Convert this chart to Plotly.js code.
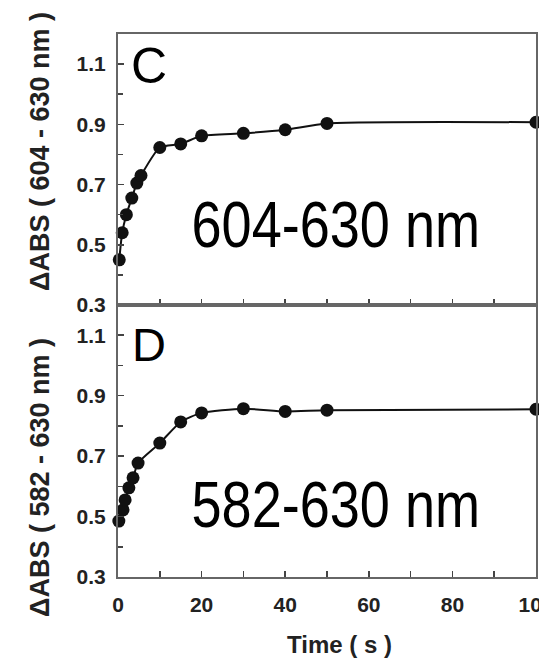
<!DOCTYPE html>
<html>
<head>
<meta charset="utf-8">
<script src="https://cdn.plot.ly/plotly-3.0.1.min.js"></script>
<style>html,body{margin:0;padding:0;background:#fff;}#chart{width:539px;height:660px;}</style>
</head>
<body>
<div id="chart"></div>
<script>
// Panel C: 604-630 nm
const timeC = [0.3, 1, 2, 3.3, 4.5, 5.5, 10, 15, 20, 30, 40, 50, 100];
const absC  = [0.45, 0.54, 0.60, 0.655, 0.705, 0.73, 0.823, 0.835, 0.862, 0.87, 0.882, 0.903, 0.907];
// Panel D: 582-630 nm
const timeD = [0.2, 1.2, 1.7, 2.6, 3.6, 4.8, 10, 15, 20, 30, 40, 50, 100];
const absD  = [0.485, 0.522, 0.555, 0.595, 0.628, 0.677, 0.743, 0.813, 0.843, 0.857, 0.848, 0.852, 0.855];

const xTicks = [0, 20, 40, 60, 80, 100];
const yTicks = [0.3, 0.5, 0.7, 0.9, 1.1];
const panelLetters = ['C', 'D'];
const panelLabels = ['604-630 nm', '582-630 nm'];
const yTitles = ['\u0394ABS ( 604 - 630 nm )', '\u0394ABS ( 582 - 630 nm )'];
const xTitle = 'Time ( s )';

const tickFont = {family: 'Liberation Sans, Arial, sans-serif', size: 21, color: '#222', weight: 700};
const titleFont = {family: 'Liberation Sans, Arial, sans-serif', size: 27, color: '#222', weight: 700};
const bigFont = {family: 'Liberation Sans, Arial, sans-serif', size: 64, color: '#000'};

function trace(x, y, xa, ya) {
  return {
    x: x, y: y, xaxis: xa, yaxis: ya,
    type: 'scatter', mode: 'lines+markers',
    line: {color: '#111', width: 2, shape: 'spline', smoothing: 0.6},
    marker: {color: '#111', size: 13},
    cliponaxis: false, showlegend: false
  };
}

const axisCommon = {
  range: [0, 100], tickvals: xTicks, ticks: 'inside', ticklen: 6, tickwidth: 1.5, tickcolor: '#444',
  showline: true, linecolor: '#666', linewidth: 2, mirror: true, ticklabeloverflow: 'allow',
  showgrid: false, zeroline: false, tickfont: tickFont, ticklabelstandoff: 8,
  minor: {dtick: 10, tick0: 0, ticks: 'inside', ticklen: 6, tickcolor: '#444', tickwidth: 1.5}
};
const yCommon = {
  range: [0.3, 1.2], tickvals: yTicks, tickformat: '.1f', ticks: 'inside', ticklen: 6, tickwidth: 1.5, tickcolor: '#444',
  showline: true, linecolor: '#666', linewidth: 2, mirror: true,
  showgrid: false, zeroline: false, tickfont: tickFont, ticklabelstandoff: 6,
  minor: {dtick: 0.1, tick0: 0.3, ticks: 'inside', ticklen: 5, tickcolor: '#444', tickwidth: 1.5}
};

const split = (577 - 305) / 543;

const layout = {
  width: 539, height: 660,
  margin: {l: 118, r: 3, t: 34, b: 83},
  paper_bgcolor: '#fff', plot_bgcolor: '#fff',
  xaxis: Object.assign({}, axisCommon, {anchor: 'y', showticklabels: false}),
  yaxis: Object.assign({}, yCommon, {domain: [split, 1], anchor: 'x'}),
  xaxis2: Object.assign({}, axisCommon, {anchor: 'y2', showticklabels: true}),
  yaxis2: Object.assign({}, yCommon, {domain: [0, split], anchor: 'x2'}),
  annotations: [
    {text: panelLetters[0], xref: 'paper', yref: 'paper', x: 0.074, y: 0.941, showarrow: false, font: {family: 'Liberation Sans, Arial, sans-serif', size: 50, color: '#000'}, xanchor: 'center', yanchor: 'middle'},
    {text: panelLetters[1], xref: 'paper', yref: 'paper', x: 0.074, y: 0.429, showarrow: false, font: {family: 'Liberation Sans, Arial, sans-serif', size: 47, color: '#000'}, xanchor: 'center', yanchor: 'middle'},
    {text: panelLabels[0], xref: 'paper', yref: 'paper', x: 0.5215, y: 0.648, showarrow: false, font: bigFont, xanchor: 'center', yanchor: 'middle'},
    {text: panelLabels[1], xref: 'paper', yref: 'paper', x: 0.5215, y: 0.1326, showarrow: false, font: bigFont, xanchor: 'center', yanchor: 'middle'},
    {text: yTitles[0], xref: 'paper', yref: 'paper', x: -0.1866, y: 0.7827, textangle: -90, showarrow: false, font: titleFont, xanchor: 'center', yanchor: 'middle'},
    {text: yTitles[1], xref: 'paper', yref: 'paper', x: -0.1866, y: 0.1823, textangle: -90, showarrow: false, font: titleFont, xanchor: 'center', yanchor: 'middle'},
    {text: xTitle, xref: 'paper', yref: 'paper', x: 0.529, y: -0.1512, showarrow: false, borderpad: 0, font: Object.assign({}, titleFont, {size: 24}), xanchor: 'center', yanchor: 'bottom'}
  ]
};

Plotly.newPlot('chart', [trace(timeC, absC, 'x', 'y'), trace(timeD, absD, 'x2', 'y2')], layout, {displayModeBar: false, staticPlot: true}).then(function (gd) {
  // condense the large panel labels horizontally (narrow typeface in the original)
  gd.querySelectorAll('text.annotation-text').forEach(function (t) {
    if (panelLabels.indexOf(t.textContent) >= 0) {
      const bb = t.getBBox();
      const cx = bb.x + bb.width / 2;
      t.setAttribute('transform', 'translate(' + cx + ',0) scale(0.845,1) translate(' + (-cx) + ',0)');
    }
  });
});
</script>
</body>
</html>
